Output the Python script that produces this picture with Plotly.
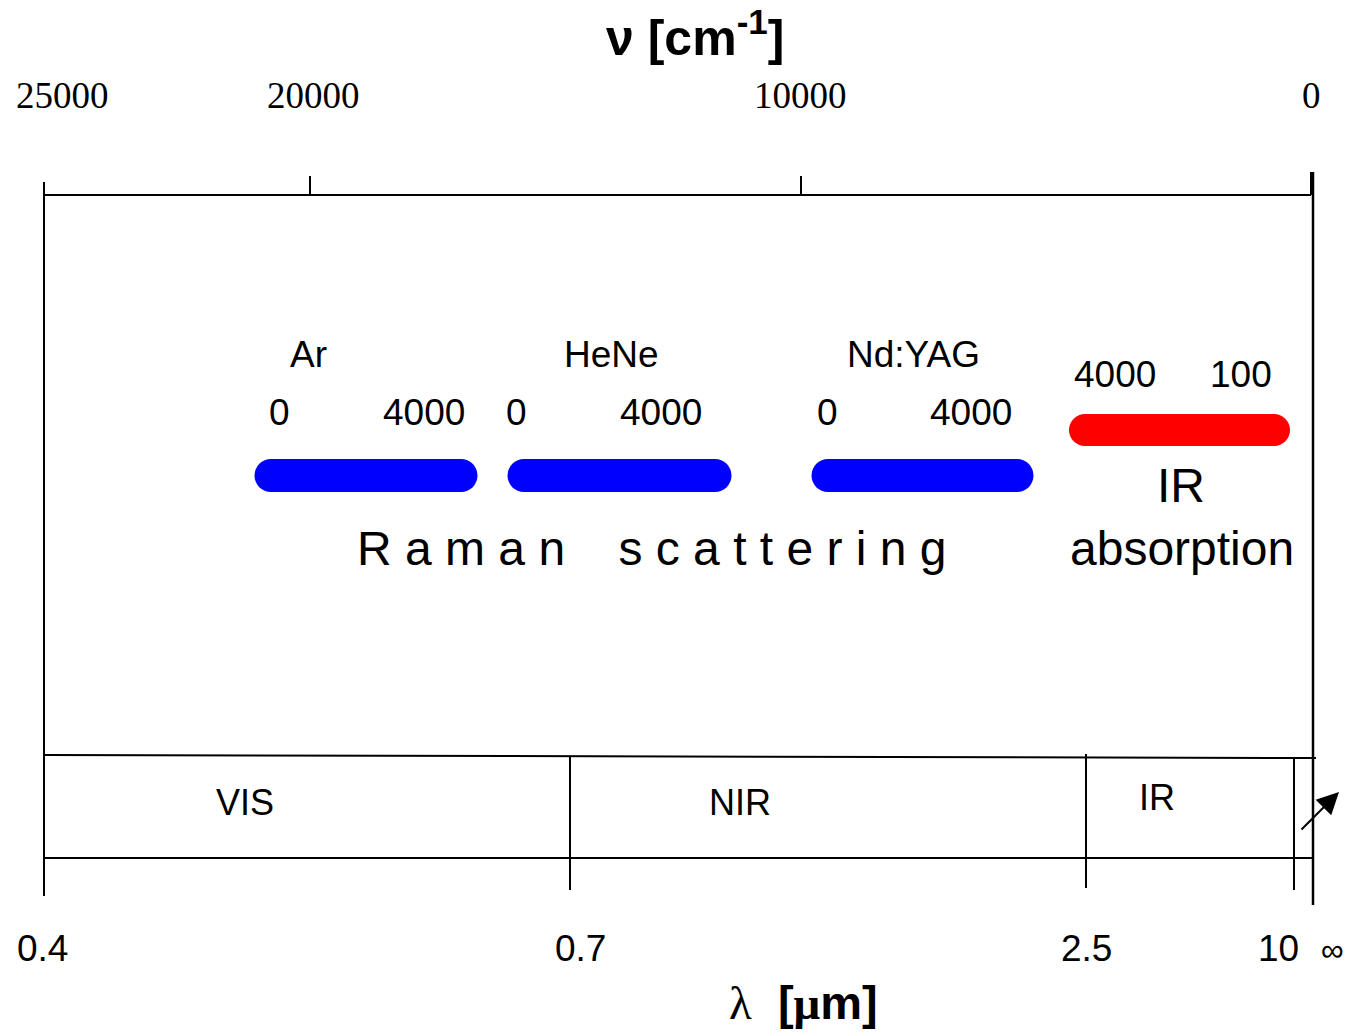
import plotly.graph_objects as go

W, H = 1349, 1032
SANS = "Liberation Sans, Arial, sans-serif"
SERIF = "Liberation Serif, Times New Roman, serif"

# ---------------- data (schematic diagram, positions) ----
nu_labels = ["25000", "20000", "10000", "0"]
nu_tick_x = [44, 310, 801, 1311]
nu_label_x = [62, 313, 800, 1311]
nu_tick_top = [182, 176, 176, 172]

lambda_labels = ["0.4", "0.7", "2.5", "10", "\u221e"]
lambda_label_x = [42, 580, 1086, 1278, 1332]

region_names = ["VIS", "NIR", "IR"]
region_x = [245, 740, 1157]
region_y = [802, 802, 797]

laser_names = ["Ar", "HeNe", "Nd:YAG"]
laser_name_x = [308, 611, 913]
raman_range_labels = ["0", "4000"]
raman_label_x = [[279, 424], [516, 661], [827, 971]]
raman_bar_x = [[271, 461], [524, 715], [828, 1017]]

ir_range_labels = ["4000", "100"]
ir_label_x = [1115, 1241]
ir_bar_x = [1085, 1274]

# frame segments: x0, y0, x1, y1
frame_segments = [
    (44, 195, 1311, 195),   # top axis line
    (44, 182, 44, 896),     # left edge
    (44, 755, 1316, 758),   # band top
    (44, 858, 1313, 858),   # band bottom
    (570, 756, 570, 890),   # VIS/NIR divider
    (1086, 754, 1086, 888), # NIR/IR divider
    (1294, 758, 1294, 890), # 10 um
]
right_edge = (1313, 172, 1313, 905)

fig = go.Figure()

# frame
for x0, y0, x1, y1 in frame_segments:
    fig.add_shape(type="line", x0=x0, y0=y0, x1=x1, y1=y1, xref="x", yref="y",
                  line=dict(color="black", width=2))
fig.add_shape(type="line", x0=right_edge[0], y0=right_edge[1], x1=right_edge[2],
              y1=right_edge[3], xref="x", yref="y", line=dict(color="black", width=2.5))
# top ticks
for tx, tt in zip(nu_tick_x, nu_tick_top):
    fig.add_shape(type="line", x0=tx, y0=tt, x1=tx, y1=195, xref="x", yref="y",
                  line=dict(color="black", width=2))

# bars
bar_w = 33
for xs in raman_bar_x:
    fig.add_trace(go.Scatter(x=xs, y=[475.5, 475.5], mode="lines+markers",
                             line=dict(color="#0000ff", width=bar_w),
                             marker=dict(color="#0000ff", size=bar_w, line=dict(width=0)),
                             hoverinfo="skip", showlegend=False))
fig.add_trace(go.Scatter(x=ir_bar_x, y=[430, 430], mode="lines+markers",
                         line=dict(color="#ff0000", width=32),
                         marker=dict(color="#ff0000", size=32, line=dict(width=0)),
                         hoverinfo="skip", showlegend=False))


def txt(x, y, s, size, family=SANS, **kw):
    fig.add_annotation(x=x, y=y, xref="x", yref="y", text=s, showarrow=False,
                       font=dict(family=family, size=size, color="black"),
                       xanchor="center", yanchor="middle", **kw)


# top axis labels
for lx, lab in zip(nu_label_x, nu_labels):
    txt(lx, 95, lab, 37, SERIF)
txt(695, 34, '<b>\u03bd [cm<sup>-1</sup>]</b>', 50)

# bottom labels
for lx, lab in zip(lambda_label_x, lambda_labels):
    if lab == "\u221e":
        txt(lx, 950, lab, 32)
    else:
        txt(lx, 948, lab, 37)
txt(803, 1002, '<span style="font-family:Liberation Serif">\u03bb</span>\u00a0\u00a0'
    '<b>[<span style="font-family:Liberation Serif">\u03bc</span>m]</b>', 47)

for rx, ry, rn in zip(region_x, region_y, region_names):
    txt(rx, ry, rn, 36)

for nx, nm in zip(laser_name_x, laser_names):
    txt(nx, 354, nm, 37)
for xs in raman_label_x:
    for lx, lab in zip(xs, raman_range_labels):
        txt(lx, 412, lab, 37)
for lx, lab in zip(ir_label_x, ir_range_labels):
    txt(lx, 374, lab, 37)

raman_text = ("\u00a0".join(list("Raman")) + "\u00a0" * 4
              + "\u00a0".join(list("scattering")))
txt(652, 548, raman_text, 48)
txt(1181, 485, "IR", 48)
txt(1182, 548, "absorption", 48)

# arrow to infinity
fig.add_annotation(x=1339, y=792, ax=1300, ay=831, xref="x", yref="y", axref="x", ayref="y",
                   showarrow=True, arrowhead=2, arrowsize=2.2, arrowwidth=2,
                   arrowcolor="black", text="")

fig.update_layout(
    width=W, height=H, margin=dict(l=0, r=0, t=0, b=0),
    paper_bgcolor="white", plot_bgcolor="white",
    xaxis=dict(range=[0, W], visible=False, fixedrange=True),
    yaxis=dict(range=[H, 0], visible=False, fixedrange=True),
    showlegend=False,
)

fig.write_html("out.html", config={"displayModeBar": False},
               post_script="document.body.style.margin='0';document.body.style.overflow='hidden';")
